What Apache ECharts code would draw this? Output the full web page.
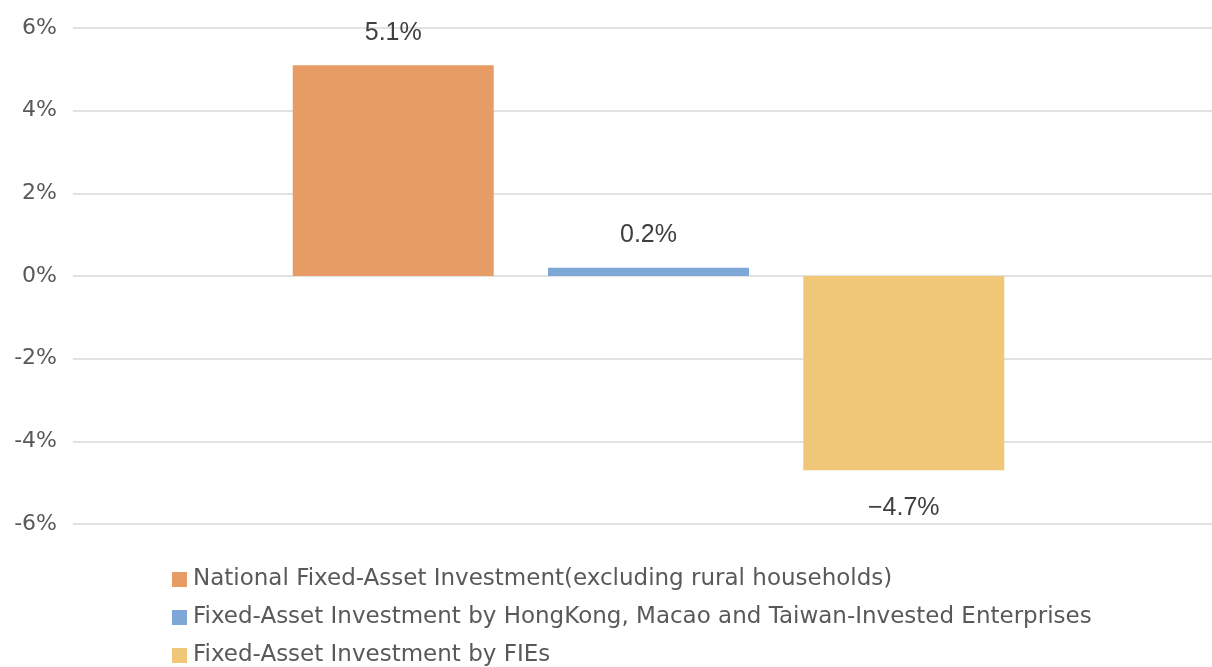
<!DOCTYPE html>
<html>
<head>
<meta charset="utf-8">
<script src="https://cdn.jsdelivr.net/npm/echarts@6/dist/echarts.min.js"></script>
<style>
  html, body { margin: 0; padding: 0; background: #fff; }
  #chart { width: 1212px; height: 667px; }
</style>
</head>
<body>
<div id="chart"></div>
<script>
// data
const categories = ['']
const seriesNames = [
  'National Fixed-Asset Investment(excluding rural households)',
  'Fixed-Asset Investment by HongKong, Macao and Taiwan-Invested Enterprises',
  'Fixed-Asset Investment by FIEs'
]
const seriesValues = [5.1, 0.2, -4.7]
const seriesColors = ['#E89C65', '#7DA7D7', '#F0C677']

const font = '"DejaVu Sans", sans-serif'
const labelFont = '"Liberation Sans", Arial, sans-serif'

const series = seriesNames.map((name, i) => {
  const v = seriesValues[i]
  return {
    name: name,
    type: 'bar',
    barWidth: 201,
    barGap: '27%',
    itemStyle: { color: seriesColors[i] },
    label: {
      show: true,
      position: v < 0 ? 'bottom' : 'top',
      distance: v < 0 ? 25 : 20,
      color: '#404040',
      fontSize: 25,
      fontFamily: labelFont,
      formatter: p => (p.value < 0 ? '\u2212' + Math.abs(p.value) : p.value) + '%'
    },
    data: [v]
  }
})

const chart = echarts.init(document.getElementById('chart'))
chart.setOption({
  animation: false,
  grid: { left: 85, right: 0, top: 28, bottom: 143, containLabel: false },
  legend: {
    orient: 'vertical',
    left: 167,
    top: 563,
    height: 120,
    icon: 'rect',
    itemWidth: 15,
    itemHeight: 15,
    itemGap: 15,
    textStyle: { color: '#595959', fontSize: 23, fontFamily: font, padding: [0, 0, 0, 1] }
  },
  xAxis: {
    type: 'category',
    data: categories,
    axisLine: { show: false },
    axisTick: { show: false },
    axisLabel: { show: false }
  },
  yAxis: {
    type: 'value',
    min: -6,
    max: 6,
    interval: 2,
    axisTick: { show: true, length: 12, lineStyle: { color: '#D9D9D9', width: 1.5 } },
    axisLabel: {
      formatter: '{value}%',
      color: '#595959',
      fontSize: 22,
      fontFamily: font,
      margin: 28
    },
    splitLine: { lineStyle: { color: '#D9D9D9', width: 1.5 } }
  },
  series: series
})
</script>
</body>
</html>
